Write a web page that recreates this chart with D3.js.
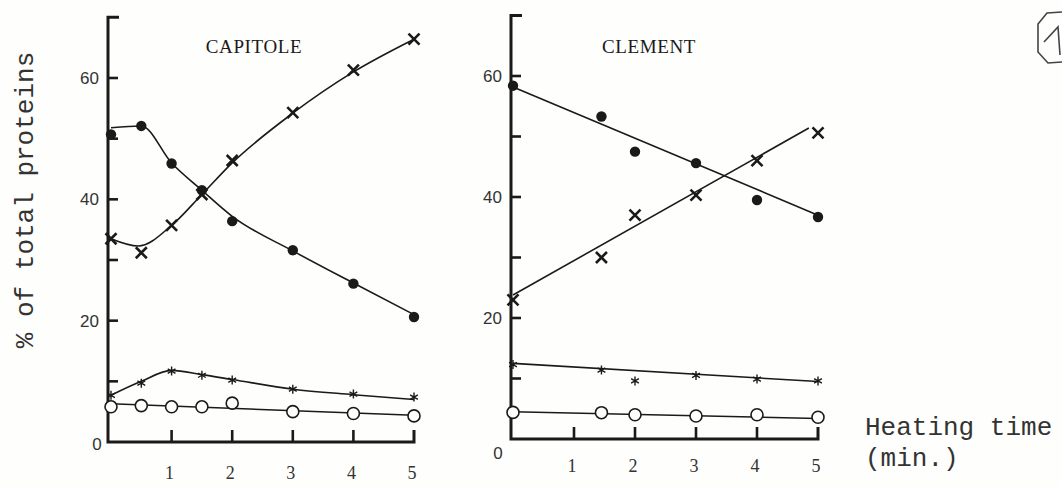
<!DOCTYPE html>
<html>
<head>
<meta charset="utf-8">
<script src="https://cdn.jsdelivr.net/npm/d3@7"></script>
<style>
  body { margin: 0; background: #fefefc; }
  svg { display: block; }
</style>
</head>
<body>
<svg id="chart" width="1062" height="487"></svg>
<script>
const svg = d3.select('#chart')
const ink = "#1a1a1a"

// CAPITOLE (left panel) - measured points
const capX = [0, 0.5, 1, 1.5, 2, 3, 4, 5]
const capFilled = [50.7, 52.1, 45.9, 41.5, 36.4, 31.6, 26.1, 20.6]
const capCross = [33.5, 31.2, 35.7, 40.8, 46.4, 54.3, 61.3, 66.4]
const capStar = [7.7, 9.7, 11.7, 11.0, 10.2, 8.7, 7.9, 7.4]
const capOpen = [5.8, 6.0, 5.8, 5.8, 6.4, 5.0, 4.7, 4.3]
// fitted curves as drawn
const capFilledFitX = [0, 0.5, 1, 1.5, 2, 3, 4, 5]
const capFilledFit = [51.8, 52.1, 46, 41.5, 37.2, 31.5, 26.2, 21]
const capCrossFitX = [0, 0.45, 1, 1.5, 2, 3, 4, 5]
const capCrossFit = [33.5, 32.3, 35.7, 40.8, 46, 54.2, 61, 66.4]
const capStarFitX = [0, 0.5, 1, 1.5, 2, 3, 4, 5]
const capStarFit = [7.7, 10, 11.8, 11.1, 10.3, 8.7, 7.8, 7.0]
const capOpenFitX = [0, 5]
const capOpenFit = [6.3, 4.4]

// CLEMENT (right panel)
const cleX = [0, 1.45, 2, 3, 4, 5]
const cleFilled = [58.4, 53.3, 47.5, 45.6, 39.5, 36.7]
const cleCross = [23.0, 30.0, 37.0, 40.3, 46.0, 50.6]
const cleStar = [12.3, 11.4, 9.6, 10.5, 9.9, 9.6]
const cleOpen = [4.4, 4.35, 4.0, 3.8, 4.0, 3.6]
const cleFilledFitX = [0, 5]
const cleFilledFit = [58.2, 37]
const cleCrossFitX = [0, 4.85]
const cleCrossFit = [23.8, 51.4]
const cleStarFitX = [0, 5]
const cleStarFit = [12.5, 9.5]
const cleOpenFitX = [0, 5]
const cleOpenFit = [4.5, 3.4]

const yLabelTicks = [20, 40, 60]
const yMinorTicks = [10, 20, 30, 40, 50, 60]
const xTicks = [1, 2, 3, 4, 5]

function zip(xs, ys) { return xs.map((x, i) => [x, ys[i]]) }

function marker(g, kind, cx, cy) {
  if (kind == "filled") {
    g.append("circle").attr("cx", cx).attr("cy", cy).attr("r", 5.2).attr("fill", ink)
  } else if (kind == "open") {
    g.append("circle").attr("cx", cx).attr("cy", cy).attr("r", 6)
      .attr("fill", "#fefefc").attr("stroke", ink).attr("stroke-width", 1.6)
  } else if (kind == "cross") {
    const s = 5.5
    g.append("path")
      .attr("d", `M${cx-s},${cy-s}L${cx+s},${cy+s}M${cx-s},${cy+s}L${cx+s},${cy-s}`)
      .attr("stroke", ink).attr("stroke-width", 2.6).attr("fill", "none")
  } else if (kind == "star") {
    const s = 4.5, c = s * Math.cos(Math.PI / 6), d = s * Math.sin(Math.PI / 6)
    g.append("path")
      .attr("d", `M${cx},${cy-s}L${cx},${cy+s}M${cx-c},${cy-d}L${cx+c},${cy+d}M${cx-c},${cy+d}L${cx+c},${cy-d}`)
      .attr("stroke", ink).attr("stroke-width", 1.4).attr("fill", "none")
  }
}

function panel(cfg) {
  const x = d3.scaleLinear().domain([0, 5]).range([cfg.x0, cfg.x5])
  const y = d3.scaleLinear().domain([0, 60]).range([cfg.y0, cfg.y60])
  const g = svg.append("g")
  const ax = cfg.axisX

  // axes with bracket ends
  g.append("path")
    .attr("d", `M${ax + 11},${y(70)}L${ax},${y(70)}L${ax},${y(0)}L${x(5)},${y(0)}L${x(5)},${y(0) - 12}`)
    .attr("fill", "none").attr("stroke", ink).attr("stroke-width", 3)
  yMinorTicks.forEach(v => {
    g.append("line").attr("x1", ax).attr("x2", ax + 10).attr("y1", y(v)).attr("y2", y(v))
      .attr("stroke", ink).attr("stroke-width", 2.6)
  })
  cfg.xTickMarks.forEach(v => {
    g.append("line").attr("x1", x(v)).attr("x2", x(v)).attr("y1", y(0)).attr("y2", y(0) - 12)
      .attr("stroke", ink).attr("stroke-width", 2.6)
  })
  yLabelTicks.forEach(v => {
    g.append("text").attr("x", ax - 9).attr("y", y(v) + 6).attr("text-anchor", "end")
      .attr("font-family", "Liberation Sans").attr("font-size", "17px").attr("fill", "#333")
      .text(v)
  })
  g.append("text").attr("x", cfg.zeroPos[0]).attr("y", cfg.zeroPos[1]).attr("text-anchor", "middle")
    .attr("font-family", "Liberation Sans").attr("font-size", "17px").attr("fill", "#333").text("0")
  xTicks.forEach(v => {
    g.append("text").attr("x", x(v) - 2).attr("y", cfg.xLabelY).attr("text-anchor", "middle")
      .attr("font-family", "Liberation Serif").attr("font-size", "18px").attr("fill", "#333")
      .text(v)
  })
  g.append("text").attr("x", cfg.titleX).attr("y", 53).attr("text-anchor", "middle")
    .attr("font-family", "Liberation Serif").attr("font-size", "19px").attr("fill", ink)
    .attr("letter-spacing", "0.6px")
    .text(cfg.title)

  const line = d3.line().x(d => x(d[0])).y(d => y(d[1])).curve(d3.curveMonotoneX)
  cfg.series.forEach(s => {
    g.append("path").datum(zip(s.fitX, s.fit)).attr("d", line)
      .attr("fill", "none").attr("stroke", ink).attr("stroke-width", 1.6)
  })
  cfg.series.forEach(s => {
    zip(cfg.px, s.pts).forEach(p => marker(g, s.kind, x(p[0]), y(p[1])))
  })
}

panel({
  title: "CAPITOLE", titleX: 254, axisX: 108,
  x0: 111, x5: 414, y0: 442, y60: 78,
  xTickMarks: [1, 2, 3, 4], zeroPos: [97, 450], xLabelY: 479,
  px: capX,
  series: [
    { kind: "filled", pts: capFilled, fitX: capFilledFitX, fit: capFilledFit },
    { kind: "cross", pts: capCross, fitX: capCrossFitX, fit: capCrossFit },
    { kind: "star", pts: capStar, fitX: capStarFitX, fit: capStarFit },
    { kind: "open", pts: capOpen, fitX: capOpenFitX, fit: capOpenFit }
  ]
})

panel({
  title: "CLEMENT", titleX: 649, axisX: 511,
  x0: 513, x5: 818, y0: 439, y60: 76,
  xTickMarks: [1, 2, 3, 4], zeroPos: [498, 459], xLabelY: 472,
  px: cleX,
  series: [
    { kind: "filled", pts: cleFilled, fitX: cleFilledFitX, fit: cleFilledFit },
    { kind: "cross", pts: cleCross, fitX: cleCrossFitX, fit: cleCrossFit },
    { kind: "star", pts: cleStar, fitX: cleStarFitX, fit: cleStarFit },
    { kind: "open", pts: cleOpen, fitX: cleOpenFitX, fit: cleOpenFit }
  ]
})

// y axis title
svg.append("text")
  .attr("transform", "translate(33,200) rotate(-90)")
  .attr("text-anchor", "middle")
  .attr("font-family", "Liberation Mono").attr("font-size", "26px").attr("fill", "#333")
  .text("% of total proteins")

// x axis title
svg.append("text").attr("x", 865).attr("y", 435)
  .attr("font-family", "Liberation Mono").attr("font-size", "26px").attr("fill", "#333")
  .text("Heating time")
svg.append("text").attr("x", 865).attr("y", 466)
  .attr("font-family", "Liberation Mono").attr("font-size", "26px").attr("fill", "#333")
  .text("(min.)")

// handwritten circled page mark
svg.append("path")
  .attr("d", "M1062,12 L1047,13 L1038,24 L1038,52 L1048,63 L1062,62")
  .attr("fill", "none").attr("stroke", "#444").attr("stroke-width", 1.6)
svg.append("path")
  .attr("d", "M1044,42 L1058,27 L1060,55")
  .attr("fill", "none").attr("stroke", "#444").attr("stroke-width", 1.6)
</script>
</body>
</html>
